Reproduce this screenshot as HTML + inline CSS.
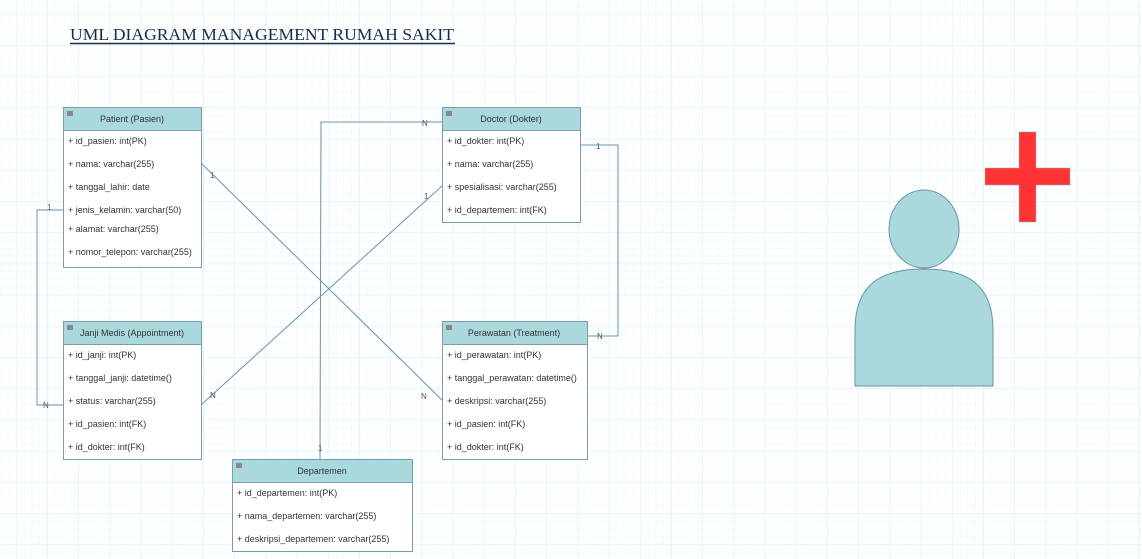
<!DOCTYPE html>
<html><head><meta charset="utf-8"><style>
html,body{margin:0;padding:0;background:#fff;}
body{width:1142px;height:559px;overflow:hidden;position:relative;font-family:"Liberation Sans",Arial,sans-serif;}
</style></head><body>
<svg width="1142" height="559" xmlns="http://www.w3.org/2000/svg" style="position:absolute;left:0;top:0" font-family="Liberation Sans, Arial, sans-serif">
<defs>
<pattern id="minor" x="16" y="14" width="7.8" height="7.8" patternUnits="userSpaceOnUse">
<path d="M0 0V7.8M0 0H7.8" stroke="#e6f9fb" stroke-width="1" fill="none"/>
</pattern>
<pattern id="major" x="16" y="14" width="31.2" height="31.2" patternUnits="userSpaceOnUse">
<path d="M0 0V31.2M0 0H31.2" stroke="#cdf3f7" stroke-width="1" fill="none"/>
</pattern>
</defs>
<rect width="1142" height="559" fill="url(#minor)"/>
<rect width="1142" height="559" fill="url(#major)"/>

<text x="70" y="40" font-family="Liberation Serif, serif" font-size="17" fill="#1a2a4a" textLength="384" lengthAdjust="spacingAndGlyphs">UML DIAGRAM MANAGEMENT RUMAH SAKIT</text>
<line x1="70" y1="43.5" x2="455" y2="43.5" stroke="#1a2a4a" stroke-width="1.4"/>

<g stroke="#6b93ad" stroke-width="1" fill="none">
<line x1="201" y1="163" x2="442" y2="400"/>
<line x1="442" y1="186" x2="201" y2="405"/>
<polyline points="320,459 321,122 442,122"/>
<polyline points="63,210 37,210 37,405 63,405"/>
<polyline points="580,145 618,145 618,336 587,336"/>
</g>
<g font-size="8" fill="#555">
<text x="210" y="178">1</text>
<text x="421" y="399">N</text>
<text x="424" y="199">1</text>
<text x="210" y="398">N</text>
<text x="422" y="126">N</text>
<text x="318" y="451">1</text>
<text x="47" y="210">1</text>
<text x="43" y="408">N</text>
<text x="596" y="149">1</text>
<text x="597" y="339">N</text>
</g>

<g font-size="9" fill="#333">
<rect x="63.5" y="107.5" width="138" height="160" fill="#fff" stroke="#7a9cb3"/>
<rect x="63.5" y="107.5" width="138" height="23" fill="#a9d9dc" stroke="#7a9cb3"/>
<rect x="67" y="111" width="6" height="5" fill="#888"/>
<text x="132" y="122" text-anchor="middle">Patient (Pasien)</text>
<text x="68" y="144">+ id_pasien: int(PK)</text>
<text x="68" y="167">+ nama: varchar(255)</text>
<text x="68" y="190">+ tanggal_lahir: date</text>
<text x="68" y="213">+ jenis_kelamin: varchar(50)</text>
<text x="68" y="232">+ alamat: varchar(255)</text>
<text x="68" y="255">+ nomor_telepon: varchar(255)</text>

<rect x="442.5" y="107.5" width="138" height="115" fill="#fff" stroke="#7a9cb3"/>
<rect x="442.5" y="107.5" width="138" height="23" fill="#a9d9dc" stroke="#7a9cb3"/>
<rect x="446" y="111" width="6" height="5" fill="#888"/>
<text x="511" y="122" text-anchor="middle">Doctor (Dokter)</text>
<text x="447" y="144">+ id_dokter: int(PK)</text>
<text x="447" y="167">+ nama: varchar(255)</text>
<text x="447" y="190">+ spesialisasi: varchar(255)</text>
<text x="447" y="213">+ id_departemen: int(FK)</text>

<rect x="63.5" y="321.5" width="138" height="138" fill="#fff" stroke="#7a9cb3"/>
<rect x="63.5" y="321.5" width="138" height="23" fill="#a9d9dc" stroke="#7a9cb3"/>
<rect x="67" y="325" width="6" height="5" fill="#888"/>
<text x="132" y="336" text-anchor="middle">Janji Medis (Appointment)</text>
<text x="68" y="358">+ id_janji: int(PK)</text>
<text x="68" y="381">+ tanggal_janji: datetime()</text>
<text x="68" y="404">+ status: varchar(255)</text>
<text x="68" y="427">+ id_pasien: int(FK)</text>
<text x="68" y="450">+ id_dokter: int(FK)</text>

<rect x="442.5" y="321.5" width="145" height="138" fill="#fff" stroke="#7a9cb3"/>
<rect x="442.5" y="321.5" width="145" height="23" fill="#a9d9dc" stroke="#7a9cb3"/>
<rect x="446" y="325" width="6" height="5" fill="#888"/>
<text x="514" y="336" text-anchor="middle">Perawatan (Treatment)</text>
<text x="447" y="358">+ id_perawatan: int(PK)</text>
<text x="447" y="381">+ tanggal_perawatan: datetime()</text>
<text x="447" y="404">+ deskripsi: varchar(255)</text>
<text x="447" y="427">+ id_pasien: int(FK)</text>
<text x="447" y="450">+ id_dokter: int(FK)</text>

<rect x="232.5" y="459.5" width="180" height="92" fill="#fff" stroke="#7a9cb3"/>
<rect x="232.5" y="459.5" width="180" height="23" fill="#a9d9dc" stroke="#7a9cb3"/>
<rect x="236" y="463" width="6" height="5" fill="#888"/>
<text x="322" y="474" text-anchor="middle">Departemen</text>
<text x="237" y="496">+ id_departemen: int(PK)</text>
<text x="237" y="519">+ nama_departemen: varchar(255)</text>
<text x="237" y="542">+ deskripsi_departemen: varchar(255)</text>
</g>

<g fill="#a9d9dc" stroke="#6b8fa8" stroke-width="1">
<path d="M855,386 L855,330 C855,285 880,269 924,269 C968,269 993,285 993,330 L993,386 Z"/>
<ellipse cx="924" cy="229" rx="35" ry="39"/>
</g>
<g fill="#ff3333" stroke="#a0b0c0" stroke-width="0.6">
<path d="M1019,132 H1036 V168 H1070 V185 H1036 V222 H1019 V185 H985 V168 H1019 Z"/>
</g>
</svg>
</body></html>
